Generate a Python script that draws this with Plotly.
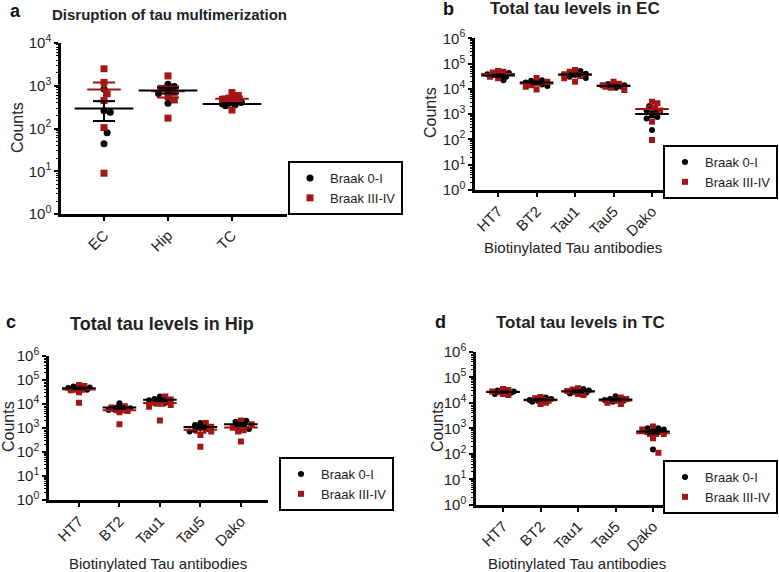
import numpy as np
import plotly.graph_objects as go

W, H = 779, 572

# ---------------- data ----------------
regions = ["EC", "Hip", "TC"]
antibodies = ["HT7", "BT2", "Tau1", "Tau5", "Dako"]
groups = ["Braak 0-I", "Braak III-IV"]

# Panel a: disruption of tau multimerization (counts)
a_braak01 = [[840, 260, 240, 80, 44],
             [1080, 960, 790, 660, 390],
             [410, 375, 340, 390, 360]]
a_braak34 = [[2500, 1200, 650, 450, 105, 9],
             [1700, 870, 700, 560, 465, 175],
             [690, 590, 515, 480, 450, 270]]

# Panel b: total tau levels in EC
b_braak01 = [[42000, 35000, 30000, 22000, 38000],
             [22000, 18000, 21000, 15000, 13000],
             [51000, 40000, 35000, 30000, 27000],
             [15500, 13000, 12000, 14000, 11000],
             [2100, 1400, 940, 770, 680, 235]]
b_braak34 = [[51000, 48000, 35000, 26000, 30000, 44000],
             [27000, 19000, 14000, 9500, 12000, 17000],
             [56000, 48000, 38000, 26000, 19000, 32000],
             [19000, 14000, 9100, 12000, 16000, 11000],
             [3100, 2700, 1700, 1400, 500, 96]]

# Panel c: total tau levels in Hip
c_braak01 = [[52000, 45000, 40000, 38000, 48000],
             [10500, 7000, 6000, 5500, 6500],
             [20000, 16000, 14000, 12000, 11000],
             [1600, 1300, 1000, 800, 700],
             [1950, 1800, 1300, 1100, 900]]
c_braak34 = [[60000, 55000, 37000, 30000, 11000, 42000],
             [8000, 7000, 6400, 5000, 4500, 1400],
             [20000, 15000, 11000, 9000, 7600, 2000],
             [1600, 1100, 900, 700, 500, 165],
             [2000, 1400, 1000, 800, 700, 270]]

# Panel d: total tau levels in TC
d_braak01 = [[30000, 27000, 25000, 22000, 28000],
             [16000, 14000, 13000, 12000, 11000],
             [35000, 30000, 28000, 25000, 23000],
             [18000, 14000, 13000, 12000, 11000],
             [1000, 1000, 900, 750, 700, 150]]
d_braak34 = [[35000, 32000, 26000, 22000, 20000, 28000],
             [17000, 15000, 13000, 12000, 10000, 9000],
             [37000, 33000, 29000, 26000, 22000, 20000],
             [16000, 14000, 12000, 10000, 9000, 13000],
             [1170, 900, 700, 600, 410, 112]]

titles = ["Disruption of tau multimerization", "Total tau levels in EC",
          "Total tau levels in Hip", "Total tau levels in TC"]
letters = ["a", "b", "c", "d"]

# ---------------- layout (pixels) ----------------
BLACK = "#000000"
RED = "#a31616"
FONT = "Liberation Sans, Arial, sans-serif"

panels = [
    dict(cats=regions, g1=a_braak01, g2=a_braak34, px=(61, 287), py=(43, 214),
         xr=(-0.672, 2.86), decs=4, msize=7, mean_w=(42, 24), cap=11, spread=11,
         title_xy=(169, 14), title_size=15, letter_xy=(8, 11), counts_xy=(18, 128),
         xtitle=None, legend_xy=(288, 161), tickfont=15),
    dict(cats=antibodies, g1=b_braak01, g2=b_braak34, px=(475, 677), py=(38.3, 190),
         xr=(-0.6, 4.65), decs=6, msize=6, mean_w=(24, 24), cap=6, spread=12,
         title_xy=(575, 9), title_size=17, letter_xy=(441, 9), counts_xy=(430, 112),
         xtitle=(573, 248), legend_xy=(663, 145), tickfont=15),
    dict(cats=antibodies, g1=c_braak01, g2=c_braak34, px=(49, 268), py=(355.7, 500),
         xr=(-0.74, 4.67), decs=6, msize=6, mean_w=(24, 24), cap=6, spread=12,
         title_xy=(162, 324), title_size=18, letter_xy=(4, 322), counts_xy=(8, 427),
         xtitle=(158, 563), legend_xy=(279, 457), tickfont=15),
    dict(cats=antibodies, g1=d_braak01, g2=d_braak34, px=(476, 683), py=(351.7, 505),
         xr=(-0.72, 4.8), decs=6, msize=6, mean_w=(24, 24), cap=6, spread=12,
         title_xy=(580, 322), title_size=17, letter_xy=(433, 322), counts_xy=(437, 427),
         xtitle=(577, 563), legend_xy=(663, 460), tickfont=15),
]


def swarm(vals, px_per_cat, px_per_dec, size, spread):
    """Deterministic compact beeswarm: x offsets (category units) per value."""
    order = sorted(range(len(vals)), key=lambda i: -vals[i])
    placed = []
    offs = [0.0] * len(vals)
    step = size * 0.45
    r = size * 0.8
    cands = [0.0]
    k = 1
    while k * step <= spread:
        cands += [k * step, -k * step]
        k += 1
    for i in order:
        yp = np.log10(vals[i]) * px_per_dec
        best, best_d = None, -1
        for c in cands:
            d = min([np.hypot(c - px, yp - py) for px, py in placed] or [1e9])
            if d >= r:
                best = c
                break
            if d > best_d:
                best, best_d = c, d
        placed.append((best, yp))
        offs[i] = best / px_per_cat
    return offs


fig = go.Figure()
annotations = []

for n, p in enumerate(panels):
    sfx = "" if n == 0 else str(n + 1)
    xa, ya = "x" + sfx, "y" + sfx
    leg = "legend" + sfx
    ncat = len(p["cats"])
    px_per_cat = (p["px"][1] - p["px"][0]) / (p["xr"][1] - p["xr"][0])
    px_per_dec = (p["py"][1] - p["py"][0]) / p["decs"]

    gx = {0: [], 1: []}
    gy = {0: [], 1: []}
    for ci in range(ncat):
        v1 = p["g1"][ci]
        v2 = p["g2"][ci]
        allv = list(v1) + list(v2)
        offs = swarm(allv, px_per_cat, px_per_dec, p["msize"], p["spread"])
        for j, v in enumerate(allv):
            g = 0 if j < len(v1) else 1
            gx[g].append(ci + offs[j])
            gy[g].append(v)

    for g, (col, sym) in enumerate([(BLACK, "circle"), (RED, "square")]):
        fig.add_trace(go.Scatter(
            x=gx[g], y=gy[g], mode="markers", name=groups[g],
            marker=dict(symbol=sym, size=p["msize"], color=col, line=dict(width=0)),
            xaxis=xa, yaxis=ya, legend=leg, showlegend=True))

    # mean +/- SEM (red first, black on top)
    for g, col in [(1, RED), (0, BLACK)]:
        data = p["g1"] if g == 0 else p["g2"]
        means = [float(np.mean(d)) for d in data]
        sems = [float(np.std(d, ddof=1) / np.sqrt(len(d))) for d in data]
        fig.add_trace(go.Scatter(
            x=list(range(ncat)), y=means, mode="markers",
            marker=dict(symbol="line-ew-open", size=p["mean_w"][g], color=col,
                        line=dict(width=2, color=col)),
            error_y=dict(type="data", symmetric=False, array=sems,
                         arrayminus=[min(s, m * 0.999) for s, m in zip(sems, means)],
                         width=p["cap"], thickness=2, color=col),
            xaxis=xa, yaxis=ya, showlegend=False, hoverinfo="skip"))

    dom_x = [p["px"][0] / W, p["px"][1] / W]
    dom_y = [1 - p["py"][1] / H, 1 - p["py"][0] / H]
    tickvals = [10 ** k for k in range(p["decs"] + 1)]
    ticktext = ["10<sup>%d</sup>" % k for k in range(p["decs"] + 1)]
    minor_vals = [m * 10 ** k for k in range(p["decs"]) for m in range(2, 10)]

    fig.layout["xaxis" + sfx] = dict(
        domain=dom_x, range=list(p["xr"]), anchor=ya,
        tickvals=list(range(ncat)), ticktext=p["cats"], tickangle=-45,
        ticks="outside", ticklen=4, tickwidth=2, tickcolor="black",
        showline=True, linecolor="black", linewidth=2.5, showgrid=False,
        zeroline=False, tickfont=dict(family=FONT, size=p["tickfont"], color="#222"),
        fixedrange=True, automargin=False)
    fig.layout["yaxis" + sfx] = dict(
        domain=dom_y, type="log", range=[0, p["decs"]], anchor=xa,
        tickvals=tickvals, ticktext=ticktext,
        ticks="outside", ticklen=4, tickwidth=2, tickcolor="black",
        minor=dict(tickvals=minor_vals, ticks="outside", ticklen=2, tickwidth=1,
                   tickcolor="black", showgrid=False),
        showline=True, linecolor="black", linewidth=2.5, showgrid=False,
        zeroline=False, tickfont=dict(family=FONT, size=15, color="#222"),
        fixedrange=True, automargin=False)

    fig.layout[leg] = dict(
        x=p["legend_xy"][0] / W, y=1 - p["legend_xy"][1] / H,
        xanchor="left", yanchor="top", bgcolor="white",
        bordercolor="black", borderwidth=2,
        font=dict(family=FONT, size=13, color="#222"),
        itemwidth=30, tracegroupgap=0)

    annotations.append(dict(text="<b>%s</b>" % titles[n], x=p["title_xy"][0] / W,
                            y=1 - p["title_xy"][1] / H, xref="paper", yref="paper",
                            showarrow=False, xanchor="center", yanchor="middle",
                            font=dict(family=FONT, size=p["title_size"], color="#222")))
    annotations.append(dict(text="<b>%s</b>" % letters[n], x=p["letter_xy"][0] / W,
                            y=1 - p["letter_xy"][1] / H, xref="paper", yref="paper",
                            showarrow=False, xanchor="left", yanchor="middle",
                            font=dict(family=FONT, size=18, color="#111")))
    annotations.append(dict(text="Counts", x=p["counts_xy"][0] / W,
                            y=1 - p["counts_xy"][1] / H, xref="paper", yref="paper",
                            showarrow=False, textangle=-90, xanchor="center",
                            yanchor="middle",
                            font=dict(family=FONT, size=16, color="#222")))
    if p["xtitle"]:
        annotations.append(dict(text="Biotinylated Tau antibodies",
                                x=p["xtitle"][0] / W, y=1 - p["xtitle"][1] / H,
                                xref="paper", yref="paper", showarrow=False,
                                xanchor="center", yanchor="middle",
                                font=dict(family=FONT, size=15, color="#222")))

fig.update_layout(
    width=W, height=H, margin=dict(l=0, r=0, t=0, b=0, autoexpand=False),
    paper_bgcolor="white", plot_bgcolor="white",
    annotations=annotations, font=dict(family=FONT),
)

fig.write_html("out.html", config={"displayModeBar": False},
               post_script="document.body.style.margin='0';"
                           "document.body.style.overflow='hidden';")
